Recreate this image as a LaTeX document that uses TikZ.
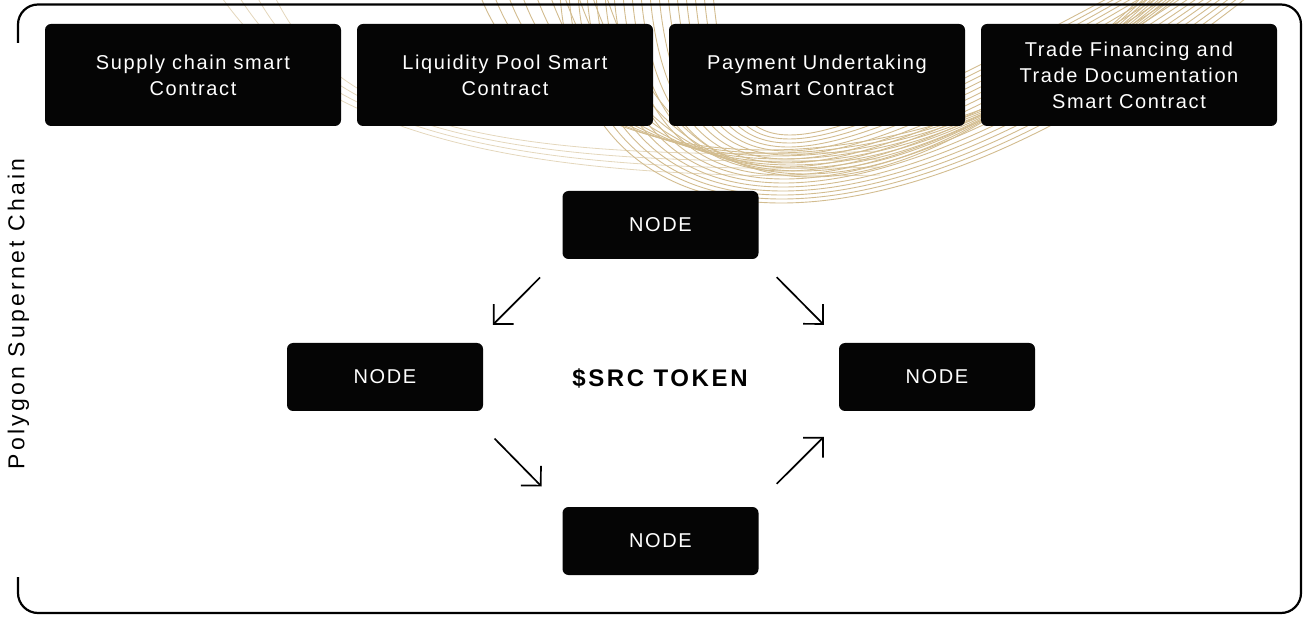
\documentclass[tikz,border=0pt]{standalone}
\usepackage{fontspec}
\setmainfont{Liberation Sans}
\newfontfamily\boxfont[LetterSpace=8]{Liberation Sans}
\newfontfamily\tokfont[LetterSpace=11]{Liberation Sans}
\newfontfamily\sidefont[LetterSpace=14]{Liberation Sans}
\usetikzlibrary{arrows.meta,calc}
\definecolor{wave}{HTML}{D2BC8F}
\definecolor{boxblack}{HTML}{050505}
\begin{document}
\begin{tikzpicture}[x=1pt,y=-1pt,
  cbox/.style={fill=boxblack, rounded corners=6pt, minimum width=296pt, minimum height=102pt,
    inner sep=0pt, text=white, align=center, font=\boxfont\fontsize{20}{26}\selectfont},
  nodebox/.style={fill=boxblack, rounded corners=6pt, minimum width=196pt, minimum height=68pt,
    inner sep=0pt, text=white, font=\boxfont\fontsize{20}{24}\selectfont},
  arr/.style={line width=1.7pt, -{Straight Barb[length=14pt,width=28pt]}},
  frame/.style={line width=2.2pt, rounded corners=20pt},
  wavy/.style={draw=wave, line width=0.9pt},
  faint/.style={draw=wave, line width=0.8pt, opacity=0.6}]
\useasboundingbox (0,0) rectangle (1304,617);
\begin{scope}
\clip (0,0) rectangle (1304,617);
% decorative wave lines
\foreach \i in {0,...,17}{
  \pgfmathsetmacro{\xl}{560+9*\i}
  \pgfmathsetmacro{\xr}{1250-8*\i}
  \pgfmathsetmacro{\h}{(203-4*\i+1.25)/0.75}
  \draw[wavy] (\xl,-5) .. controls (\xl+20,\h) and (\xr-350,\h) .. (\xr,-5);
}
\foreach \i in {0,...,9}{
  \pgfmathsetmacro{\xl}{480+14*\i}
  \pgfmathsetmacro{\xr}{1180-4*\i}
  \pgfmathsetmacro{\h}{(150+3*\i+1.25)/0.75}
  \draw[wavy] (\xl,-5) .. controls (\xl+80,\h) and (\xr-250,\h) .. (\xr,-5);
}
\foreach \i in {0,...,3}{
  \draw[faint] (220+18*\i,-5) .. controls (300+10*\i,110) and (450,185-6*\i) .. (880,175-8*\i);
}
\end{scope}
% frame
\draw[frame] (18,43) -- (18,4.5) -- (1301,4.5) -- (1301,613) -- (18,613) -- (18,577);
\node[rotate=90, font=\sidefont\fontsize{23}{23}\selectfont, inner sep=0pt] (side) at (18.5,314) {Polygon Supernet Chain};
% contract boxes
\node[cbox] (c1) at (193,75) {Supply chain smart\\Contract};
\node[cbox] (c2) at (505,75) {Liquidity Pool Smart\\Contract};
\node[cbox] (c3) at (817,75) {Payment Undertaking\\Smart Contract};
\node[cbox] (c4) at (1129,75) {Trade Financing and\\Trade Documentation\\Smart Contract};
% nodes
\node[nodebox] (top) at (660.5,225) {NODE};
\node[nodebox] (left) at (385,377) {NODE};
\node[nodebox] (right) at (937,377) {NODE};
\node[nodebox] (bottom) at (660.5,541) {NODE};
\node[font=\tokfont\bfseries\fontsize{24}{24}\selectfont, inner sep=0pt] (token) at (660,378) {\$SRC TOKEN};
% arrows
\draw[arr] ($(top.south west)+(-22.3,18.3)$) -- ($(left.north east)+(9.7,-18)$);
\draw[arr] ($(top.south east)+(18,18)$) -- ($(right.north west)+(-15,-18)$);
\draw[arr] ($(left.south east)+(11.3,27.3)$) -- ($(bottom.north west)+(-20.7,-20.3)$);
\draw[arr] ($(bottom.north east)+(18,-23)$) -- ($(right.south west)+(-15,25.7)$);
\end{tikzpicture}
\end{document}
